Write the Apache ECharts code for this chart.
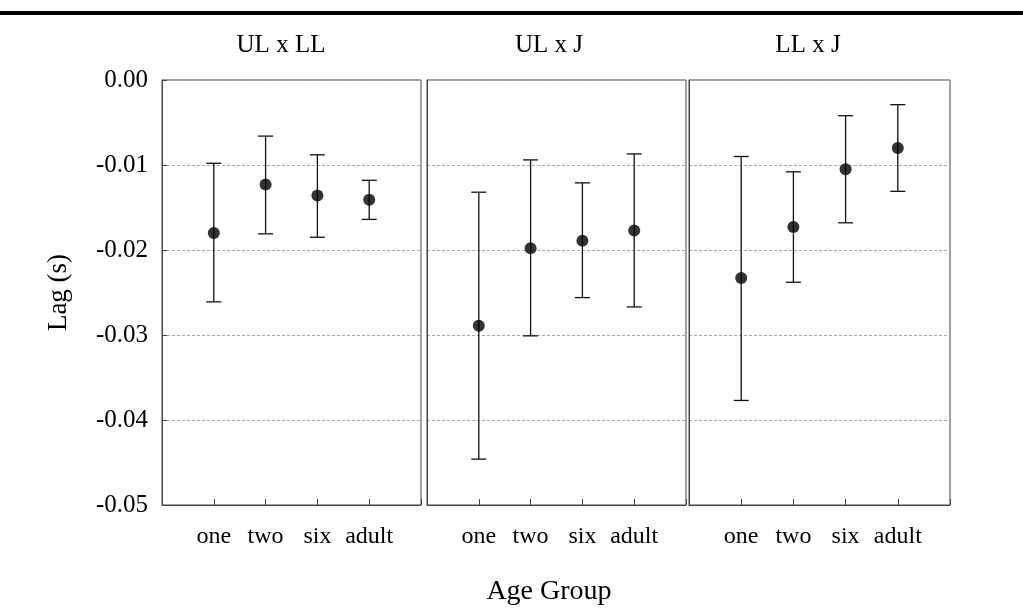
<!DOCTYPE html>
<html>
<head>
<meta charset="utf-8">
<script src="https://cdn.jsdelivr.net/npm/echarts@6/dist/echarts.min.js"></script>
<style>
html,body{margin:0;padding:0;background:#fff;}
#chart{width:1023px;height:614px;}
</style>
</head>
<body>
<div id="chart"></div>
<script>
var categories = ['one', 'two', 'six', 'adult'];
var panelTitles = ['UL x LL', 'UL x J', 'LL x J'];

var meanULLL  = [-0.0180, -0.0123, -0.0136, -0.0141];
var upperULLL = [-0.0098, -0.0066, -0.0088, -0.0118];
var lowerULLL = [-0.0261, -0.0181, -0.0185, -0.0164];

var meanULJ  = [-0.0289, -0.0198, -0.0189, -0.0177];
var upperULJ = [-0.0132, -0.0094, -0.0121, -0.0087];
var lowerULJ = [-0.0446, -0.0301, -0.0256, -0.0267];

var meanLLJ  = [-0.0233, -0.0173, -0.0105, -0.0080];
var upperLLJ = [-0.0090, -0.0108, -0.0042, -0.0029];
var lowerLLJ = [-0.0377, -0.0238, -0.0168, -0.0131];

var panels = [
  {mean: meanULLL, upper: upperULLL, lower: lowerULLL},
  {mean: meanULJ, upper: upperULJ, lower: lowerULJ},
  {mean: meanLLJ, upper: upperLLJ, lower: lowerLLJ}
];

var FONT = '"Liberation Serif", "Times New Roman", serif';
var gridBoxes = [
  {left: 162, width: 259},
  {left: 427, width: 259},
  {left: 689, width: 261}
];
var titleCenters = [276, 544, 803];

var grids = [], xAxes = [], yAxes = [], series = [], titles = [];
gridBoxes.forEach(function (g, i) {
  grids.push({left: g.left, width: g.width, top: 80, height: 425, show: true,
    borderColor: '#444', borderWidth: 1, backgroundColor: 'transparent', containLabel: false});
  xAxes.push({type: 'value', gridIndex: i, min: 0, max: 5, interval: 1, position: 'bottom',
    axisLine: {show: true, onZero: false, lineStyle: {color: '#444', width: 1}},
    splitLine: {show: false},
    axisTick: {show: true, inside: true, length: 6, lineStyle: {color: '#444'}},
    axisLabel: {show: true, margin: 20, color: '#000', fontFamily: FONT, fontSize: 24,
      formatter: function (v) { return categories[v - 1] || ''; }}
  });
  yAxes.push({type: 'value', gridIndex: i, min: -0.05, max: 0, interval: 0.01, position: 'left',
    axisLine: {show: true, onZero: false, lineStyle: {color: '#444', width: 1}},
    axisTick: {show: i === 0, inside: true, length: 5, lineStyle: {color: '#444'}},
    splitLine: {show: true, lineStyle: {color: '#aaa', type: [3, 2], width: 1}},
    axisLabel: {show: i === 0, margin: 14, color: '#000', fontFamily: FONT, fontSize: 25,
      formatter: function (v) { return v.toFixed(2); }},
    name: i === 0 ? 'Lag (s)' : '', nameLocation: 'middle', nameGap: 90,
    nameTextStyle: {fontFamily: FONT, fontSize: 27, color: '#000'}
  });
  var p = panels[i];
  var errData = categories.map(function (c, k) { return [k + 1, p.lower[k], p.upper[k]]; });
  var meanData = categories.map(function (c, k) { return [k + 1, p.mean[k]]; });
  series.push({
    type: 'custom', xAxisIndex: i, yAxisIndex: i, silent: true,
    data: errData,
    renderItem: function (params, api) {
      var lo = api.coord([api.value(0), api.value(1)]);
      var hi = api.coord([api.value(0), api.value(2)]);
      var hw = 7.5;
      var st = {stroke: '#111', lineWidth: 1.3};
      return {type: 'group', children: [
        {type: 'line', shape: {x1: lo[0], y1: lo[1], x2: hi[0], y2: hi[1]}, style: st},
        {type: 'line', shape: {x1: lo[0] - hw, y1: lo[1], x2: lo[0] + hw, y2: lo[1]}, style: st},
        {type: 'line', shape: {x1: hi[0] - hw, y1: hi[1], x2: hi[0] + hw, y2: hi[1]}, style: st}
      ]};
    },
    z: 2
  });
  series.push({
    type: 'scatter', xAxisIndex: i, yAxisIndex: i, data: meanData,
    symbol: 'circle', symbolSize: 12, itemStyle: {color: '#000'}, z: 3, silent: true
  });
  titles.push({text: panelTitles[i], left: titleCenters[i], top: 28, textAlign: 'center',
    textStyle: {fontFamily: FONT, fontSize: 25, fontWeight: 'normal', color: '#000'}});
});

var chart = echarts.init(document.getElementById('chart'), null, {renderer: 'canvas'});
chart.setOption({
  animation: false,
  backgroundColor: '#fff',
  title: titles,
  grid: grids,
  xAxis: xAxes,
  yAxis: yAxes,
  series: series,
  graphic: [
    {type: 'rect', shape: {x: 0, y: 11, width: 1023, height: 4}, style: {fill: '#000'}},
    {type: 'text', x: 549, y: 592, style: {text: 'Age Group', fontFamily: FONT, fontSize: 28,
      fill: '#000', textAlign: 'center', textVerticalAlign: 'middle'}}
  ]
});
</script>
</body>
</html>
